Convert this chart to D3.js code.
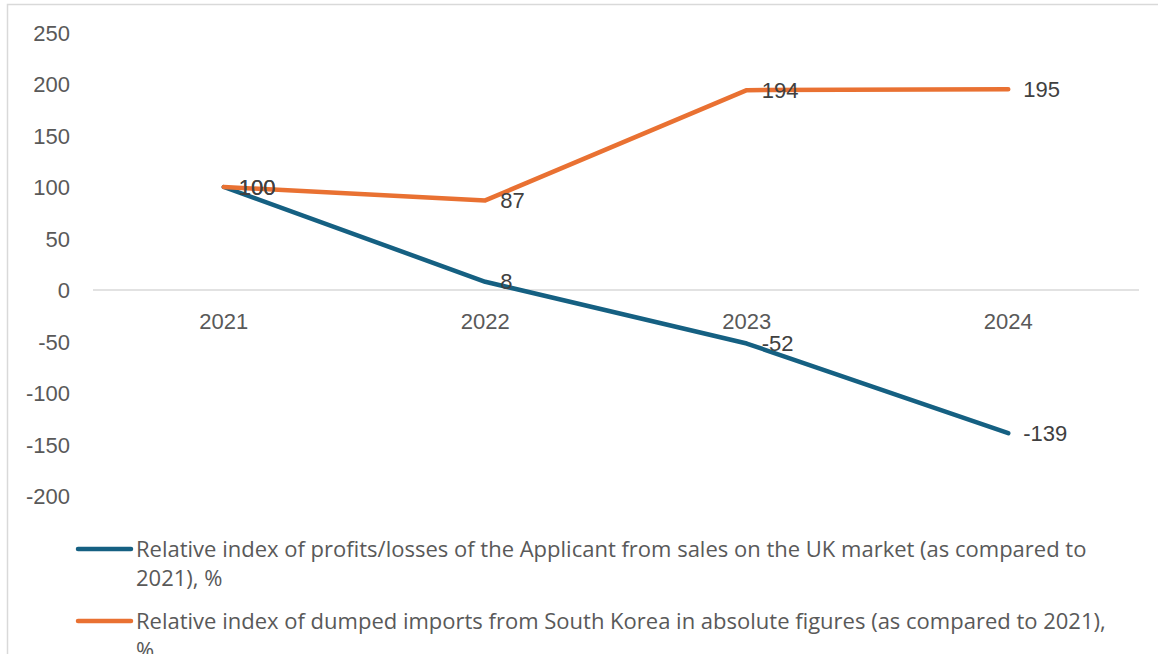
<!DOCTYPE html>
<html>
<head>
<meta charset="utf-8">
<script src="https://cdn.jsdelivr.net/npm/d3@7"></script>
<style>
  html, body { margin: 0; padding: 0; background: #fff; }
  svg { display: block; }
</style>
</head>
<body>
<svg id="chart" width="1158" height="654"></svg>
<script>
// Years on the category axis
const years = ["2021", "2022", "2023", "2024"];
// Relative index of profits/losses (2021 = 100)
const profitIndex = [100, 8, -52, -139];
// Relative index of dumped imports from South Korea (2021 = 100)
const importIndex = [100, 87, 194, 195];
// Value axis ticks
const yTicks = [250, 200, 150, 100, 50, 0, -50, -100, -150, -200];

const seriesNames = [
  ["Relative index of profits/losses of the Applicant from sales on the UK market (as compared to", "2021), %"],
  ["Relative index of dumped imports from South Korea in absolute figures (as compared to 2021),", "%"]
];

const svg = d3.select("#chart");
const W = 1158, H = 654;

// Chart area frame
svg.append("rect")
  .attr("x", 7.5).attr("y", 4.5)
  .attr("width", W + 10).attr("height", H + 10)
  .attr("fill", "#fff").attr("stroke", "#d9d9d9").attr("stroke-width", 1.5);

const plot = { left: 93, right: 1139 };

const x = d3.scaleBand().domain(years).range([plot.left, plot.right]);
const y = d3.scaleLinear().domain([-200, 250]).range([496, 32.5]);

const labelFont = "'Liberation Sans', Arial, sans-serif";
const labelSize = 22;
const fmt = d => String(d); // plain hyphen for negatives

// Value axis labels (no gridlines)
const yAxis = d3.axisLeft(y).tickValues(yTicks).tickFormat(fmt).tickSize(0).tickPadding(0);
const gy = svg.append("g").attr("transform", "translate(70,0)").call(yAxis);
gy.select(".domain").remove();
gy.selectAll("text")
  .attr("font-family", labelFont).attr("font-size", labelSize)
  .attr("fill", "#595959").attr("dy", "0.35em");

// Zero line with category labels beneath
const xAxis = d3.axisBottom(x).tickSize(0).tickPadding(0);
const gx = svg.append("g").attr("transform", `translate(0,${y(0)})`).call(xAxis);
gx.select(".domain").attr("stroke", "#d9d9d9").attr("stroke-width", 1.5)
  .attr("d", `M${plot.left},0H${plot.right}`);
gx.selectAll("text")
  .attr("font-family", labelFont).attr("font-size", labelSize)
  .attr("fill", "#595959").attr("dy", "0.35em").attr("y", 31);

const cx = d => x(d) + x.bandwidth() / 2;

const series = [
  { values: profitIndex, color: "#156082" },
  { values: importIndex, color: "#E97132" }
];

const line = d3.line()
  .x((d, i) => cx(years[i]))
  .y(d => y(d));

series.forEach(s => {
  svg.append("path")
    .datum(s.values)
    .attr("d", line)
    .attr("fill", "none")
    .attr("stroke", s.color)
    .attr("stroke-width", 4.5)
    .attr("stroke-linejoin", "round")
    .attr("stroke-linecap", "round");
});

// Data labels placed to the right of each point
series.forEach(s => {
  svg.append("g").selectAll("text")
    .data(s.values)
    .join("text")
    .attr("x", (d, i) => cx(years[i]) + 15)
    .attr("y", d => y(d))
    .attr("dy", "0.35em")
    .attr("font-family", labelFont)
    .attr("font-size", labelSize)
    .attr("fill", "#404040")
    .text(fmt);
});

// Legend
const legendFont = "'Open Sans', 'Noto Sans', sans-serif";
const legendRows = [549, 621];
series.forEach((s, i) => {
  const ly = legendRows[i];
  svg.append("line")
    .attr("x1", 78).attr("x2", 131)
    .attr("y1", ly).attr("y2", ly)
    .attr("stroke", s.color).attr("stroke-width", 4.5)
    .attr("stroke-linecap", "round");
  const t = svg.append("text")
    .attr("font-family", legendFont)
    .attr("font-size", 22)
    .attr("fill", "#595959");
  seriesNames[i].forEach((ln, j) => {
    t.append("tspan")
      .attr("x", 136)
      .attr("y", ly + j * 29)
      .attr("dy", "0.35em")
      .text(ln);
  });
});
</script>
</body>
</html>
